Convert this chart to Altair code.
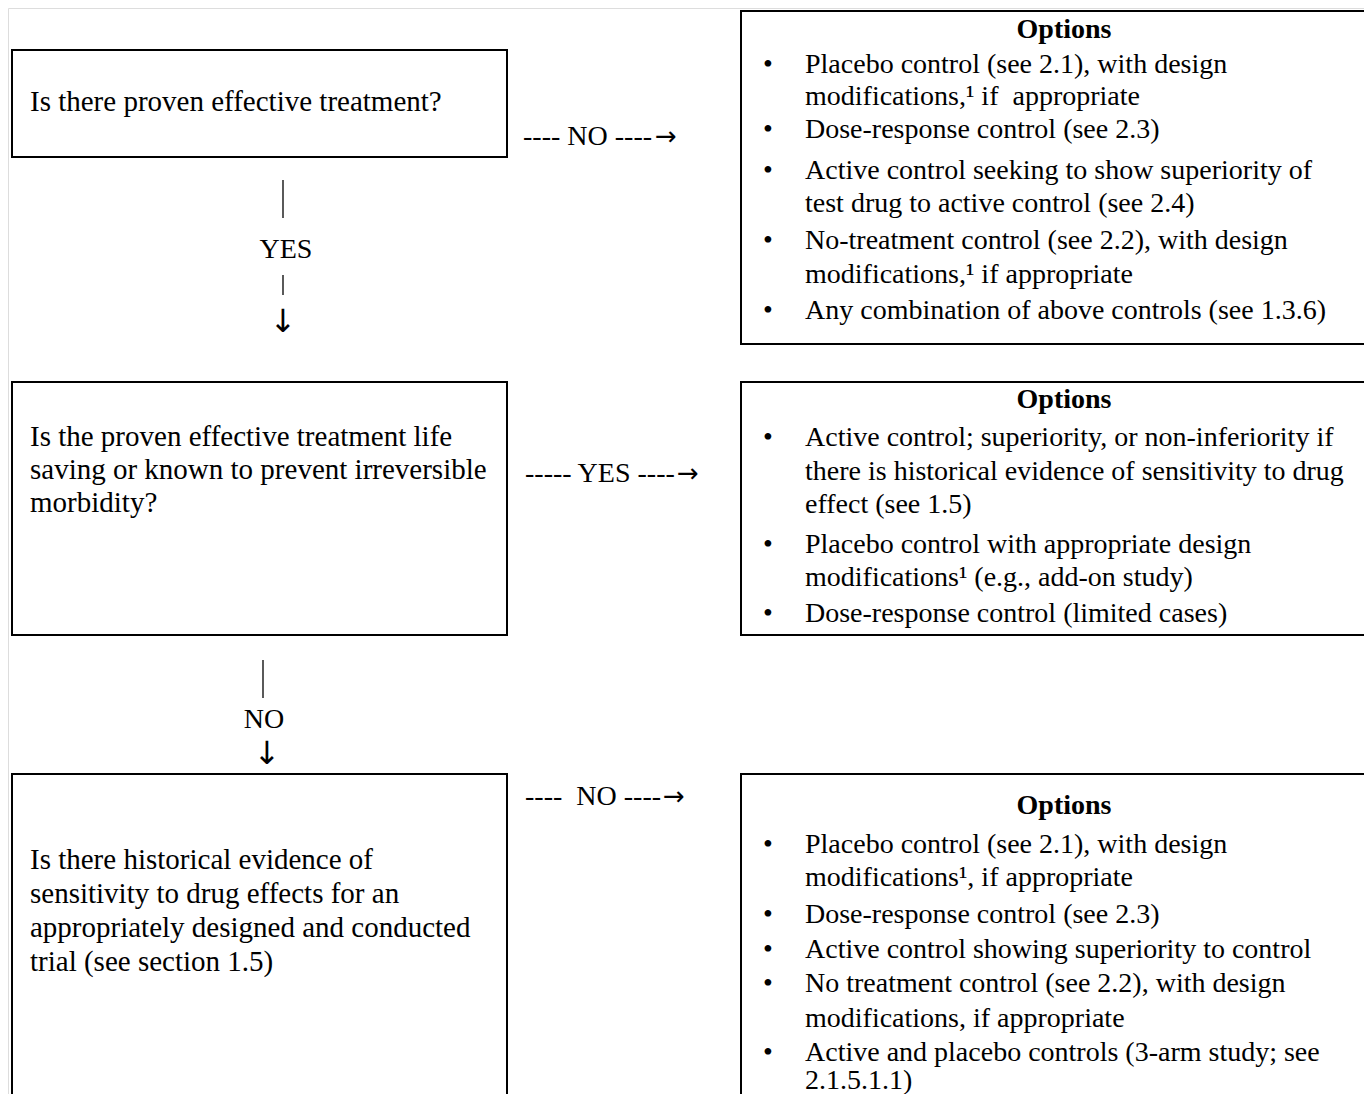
import altair as alt
import pandas as pd

FONT = "'Liberation Serif', 'DejaVu Sans'"
ARROW_FONT = "'DejaVu Sans'"
FS = 28
NB = "\u00a0"

# ---------------- content ----------------
q1_lines = ["Is there proven effective treatment?"]
q2_lines = ["Is the proven effective treatment life",
            "saving or known to prevent irreversible",
            "morbidity?"]
q3_lines = ["Is there historical evidence of",
            "sensitivity to drug effects for an",
            "appropriately designed and conducted",
            "trial (see section 1.5)"]

opt_title = "Options"
# (text, starts with bullet)
opt1 = [("Placebo control (see 2.1), with design", True),
        ("modifications,¹ if" + NB + " appropriate", False),
        ("Dose-response control (see 2.3)", True),
        ("Active control seeking to show superiority of", True),
        ("test drug to active control (see 2.4)", False),
        ("No-treatment control (see 2.2), with design", True),
        ("modifications,¹ if appropriate", False),
        ("Any combination of above controls (see 1.3.6)", True)]
opt2 = [("Active control; superiority, or non-inferiority if", True),
        ("there is historical evidence of sensitivity to drug", False),
        ("effect (see 1.5)", False),
        ("Placebo control with appropriate design", True),
        ("modifications¹ (e.g., add-on study)", False),
        ("Dose-response control (limited cases)", True)]
opt3 = [("Placebo control (see 2.1), with design", True),
        ("modifications¹, if appropriate", False),
        ("Dose-response control (see 2.3)", True),
        ("Active control showing superiority to control", True),
        ("No treatment control (see 2.2), with design", True),
        ("modifications, if appropriate", False),
        ("Active and placebo controls (3-arm study; see", True),
        ("2.1.5.1.1)", False)]

# horizontal connectors: dashed label part + arrow head
conn_no1 = "---- NO ----"
conn_yes2 = "----- YES ----"
conn_no3 = "----" + NB + " NO ----"
right_arrow = "→"
down_yes = "YES"
down_no = "NO"
down_arrow = "↓"

# ---------------- layout (page pixels) ----------------
LX0, LX1 = 12, 507
RX0, RX1 = 741, 1400
boxes = pd.DataFrame({
    "x":  [LX0, LX0, LX0, RX0, RX0, RX0],
    "x2": [LX1, LX1, LX1, RX1, RX1, RX1],
    "y":  [50, 382, 774, 11, 382, 774],
    "y2": [157, 635, 1130, 344, 635, 1130],
})

q_y = {"q1": [102], "q2": [437, 470, 503], "q3": [860, 894, 928, 962]}
o_y = {
    "o1": (30, [65, 97, 130, 171, 204, 241, 275, 311]),
    "o2": (400, [438, 472, 505, 545, 578, 614]),
    "o3": (806, [845, 878, 915, 950, 984, 1019, 1053, 1081]),
}

q_rows = []
for lines, ys in ((q1_lines, q_y["q1"]), (q2_lines, q_y["q2"]), (q3_lines, q_y["q3"])):
    for t, y in zip(lines, ys):
        q_rows.append({"x": 30, "y": y, "text": t})

left_rows = []
bullet_rows = []
title_rows = []
for opts, key in ((opt1, "o1"), (opt2, "o2"), (opt3, "o3")):
    ty, ys = o_y[key]
    title_rows.append({"x": 1064, "y": ty, "text": opt_title})
    for (t, b), y in zip(opts, ys):
        left_rows.append({"x": 805, "y": y, "text": t})
        if b:
            bullet_rows.append({"x": 768, "y": y, "text": "•"})

left_rows += [
    {"x": 523, "y": 137, "text": conn_no1},
    {"x": 525, "y": 474, "text": conn_yes2},
    {"x": 525, "y": 797, "text": conn_no3},
]
harrow_rows = [
    {"x": 655, "y": 137, "text": right_arrow},
    {"x": 677, "y": 474, "text": right_arrow},
    {"x": 663, "y": 797, "text": right_arrow},
]
center_rows = [
    {"x": 286, "y": 250, "text": down_yes},
    {"x": 264, "y": 720, "text": down_no},
] + bullet_rows
arrow_rows = [
    {"x": 283, "y": 322, "text": down_arrow},
    {"x": 267, "y": 754, "text": down_arrow},
]

rules = pd.DataFrame({
    "x":  [283, 283, 263],
    "y":  [180, 275, 660],
    "y2": [218, 295, 698],
})

xs = alt.Scale(domain=[8, 1364], nice=False, zero=False)
ys = alt.Scale(domain=[8, 1094], nice=False, zero=False, reverse=True)

box_layer = alt.Chart(boxes).mark_rect(
    fillOpacity=0, stroke="black", strokeWidth=2, clip=True
).encode(
    x=alt.X("x:Q", scale=xs, axis=None), x2="x2:Q",
    y=alt.Y("y:Q", scale=ys, axis=None), y2="y2:Q",
)

rule_layer = alt.Chart(rules).mark_rule(color="black", strokeWidth=1.3).encode(
    x=alt.X("x:Q", scale=xs, axis=None),
    y=alt.Y("y:Q", scale=ys, axis=None), y2="y2:Q",
)

def text_layer(rows, align, weight="normal", font=FONT, size=FS):
    return alt.Chart(pd.DataFrame(rows)).mark_text(
        font=font, fontSize=size, align=align, baseline="middle",
        fontWeight=weight, color="black", clip=True,
    ).encode(
        x=alt.X("x:Q", scale=xs, axis=None),
        y=alt.Y("y:Q", scale=ys, axis=None),
        text="text:N",
    )

chart = alt.layer(
    box_layer,
    rule_layer,
    text_layer(q_rows, "left", size=29),
    text_layer(left_rows, "left"),
    text_layer(harrow_rows, "left", font=ARROW_FONT, size=26),
    text_layer(center_rows, "center"),
    text_layer(arrow_rows, "center", font=ARROW_FONT, size=32),
    text_layer(title_rows, "center", "bold"),
).properties(
    width=1356, height=1086, padding=0,
    autosize=alt.AutoSizeParams(type="none"),
).configure_view(stroke=None).configure(background="white")

chart.save("out.html", embed_options={"renderer": "svg", "actions": False})
